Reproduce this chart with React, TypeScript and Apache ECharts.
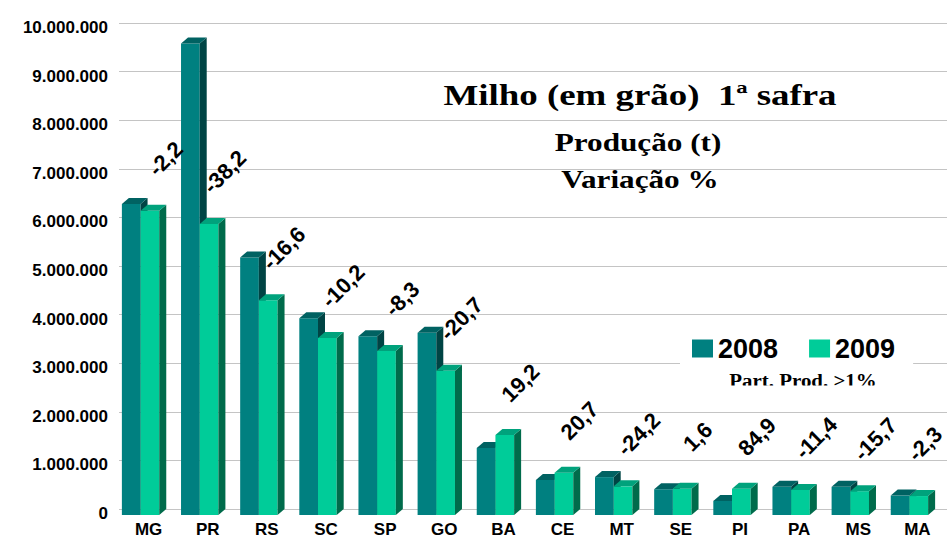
import React, { useEffect, useRef } from "react";
import * as echarts from "echarts";

const categories = ["MG", "PR", "RS", "SC", "SP", "GO", "BA", "CE", "MT", "SE", "PI", "PA", "MS", "MA"];
const prod2008 = [6400000, 9700000, 5300000, 4050000, 3680000, 3750000, 1380000, 720000, 780000, 530000, 290000, 580000, 580000, 400000];
const prod2009 = [6260000, 5990000, 4420000, 3640000, 3375000, 2970000, 1645000, 870000, 590000, 540000, 540000, 515000, 490000, 390000];
const variation = [-2.2, -38.2, -16.6, -10.2, -8.3, -20.7, 19.2, 20.7, -24.2, 1.6, 84.9, -11.4, -15.7, -2.3];
const yTicks = { min: 0, max: 10000000, interval: 1000000 };

const titleLines = ["Milho (em grão)  1ª safra", "Produção (t)", "Variação %"];
const note = "Part. Prod. >1%";

const colors2008 = { front: "#008080", side: "#004444", top: "#006262" };
const colors2009 = { front: "#00CC99", side: "#006B4B", top: "#00A27C" };

const fmtNum = (v: number) => String(v).replace(/\B(?=(\d{3})+(?!\d))/g, ".");
const fmtVar = (v: number) => v.toFixed(1).replace(".", ",");

function makeBarRender(s: number, c: { front: string; side: string; top: string }) {
  return (params: any, api: any) => {
    const idx = api.value(0);
    const val = api.value(1);
    const top = api.coord([idx, val]);
    const base = api.coord([idx, 0]);
    const band = api.size([1, 0])[0];
    const w = band * 0.316;
    const dx = 7;
    const dy = 6;
    const x0 = top[0] - 8 - w + s * w;
    const yT = top[1] + dy;
    const yB = base[1] + dy;
    return {
      type: "group",
      children: [
        { type: "rect", shape: { x: x0, y: yT, width: w, height: yB - yT }, style: { fill: c.front } },
        {
          type: "polygon",
          shape: { points: [[x0 + w, yT], [x0 + w + dx, yT - dy], [x0 + w + dx, yB - dy], [x0 + w, yB]] },
          style: { fill: c.side },
        },
        {
          type: "polygon",
          shape: { points: [[x0, yT], [x0 + dx, yT - dy], [x0 + w + dx, yT - dy], [x0 + w, yT]] },
          style: { fill: c.top },
        },
      ],
    };
  };
}

function labelRender(params: any, api: any) {
  const idx = api.value(0);
  const val = api.value(1);
  const v = api.value(2);
  const p = api.coord([idx, val]);
  const maxX = params.coordSys.x + params.coordSys.width - 22;
  return {
    type: "text",
    x: Math.min(p[0] + 17, maxX),
    y: p[1] - 46,
    rotation: Math.PI / 4,
    style: {
      text: fmtVar(v),
      fill: "#000",
      fontSize: 22,
      fontWeight: "bold",
      fontFamily: "Liberation Sans, Arial, sans-serif",
      align: "center",
      verticalAlign: "middle",
      textAlign: "center",
      textVerticalAlign: "middle",
    },
  };
}

export default function App() {
  const ref = useRef<HTMLDivElement>(null);
  useEffect(() => {
    if (!ref.current) return;
    const chart = echarts.init(ref.current, undefined, { renderer: "svg" });
    const serifBold = { fontFamily: "Liberation Serif, Times New Roman, serif", fontWeight: "bold", fill: "#000", align: "center", verticalAlign: "middle" };
    chart.setOption({
      animation: false,
      backgroundColor: "#fff",
      grid: { left: 119, right: 0, top: 23, bottom: 28, containLabel: false },
      xAxis: {
        type: "category",
        data: categories,
        axisLine: { show: false },
        axisTick: { show: false },
        axisLabel: { color: "#000", fontSize: 17, fontWeight: "bold", fontFamily: "Liberation Sans, Arial, sans-serif", margin: 12 },
      },
      yAxis: {
        type: "value",
        min: yTicks.min,
        max: yTicks.max,
        interval: yTicks.interval,
        axisLine: { show: false },
        axisTick: { show: false },
        splitLine: { lineStyle: { color: "#c4c4c4", width: 1 } },
        axisLabel: {
          color: "#000",
          fontSize: 17,
          fontWeight: "bold",
          fontFamily: "Liberation Sans, Arial, sans-serif",
          margin: 11,
          verticalAlign: "top",
          lineHeight: 9,
          formatter: (v: number) => fmtNum(v),
        },
      },
      legend: {
        data: [
          { name: "2008", icon: "rect" },
          { name: "2009", icon: "rect" },
        ],
        left: 680,
        top: 327,
        padding: [8, 18, 30, 12],
        backgroundColor: "#fff",
        itemWidth: 21,
        itemHeight: 18,
        itemGap: 31,
        textStyle: { color: "#000", fontSize: 27, fontWeight: "bold", fontFamily: "Liberation Sans, Arial, sans-serif" },
      },
      graphic: [
        { type: "text", x: 640, y: 95, scaleX: 1.23, z: 100, style: { ...serifBold, text: titleLines[0], fontSize: 30 } },
        { type: "text", x: 638, y: 142, scaleX: 1.2, z: 100, style: { ...serifBold, text: titleLines[1], fontSize: 26 } },
        { type: "text", x: 640, y: 179, scaleX: 1.2, z: 100, style: { ...serifBold, text: titleLines[2], fontSize: 26 } },
        { type: "text", x: 803, y: 380, scaleX: 1.1, z: 100, style: { ...serifBold, text: note, fontSize: 19 } },
        { type: "rect", z: 101, shape: { x: 700, y: 385.5, width: 200, height: 7 }, style: { fill: "#fff" } },
      ],
      series: [
        {
          name: "2008",
          type: "custom",
          renderItem: makeBarRender(0, colors2008),
          data: prod2008.map((v, i) => [i, v]),
          encode: { x: 0, y: 1 },
          itemStyle: { color: colors2008.front },
        },
        {
          name: "2009",
          type: "custom",
          renderItem: makeBarRender(1, colors2009),
          data: prod2009.map((v, i) => [i, v]),
          encode: { x: 0, y: 1 },
          itemStyle: { color: colors2009.front },
        },
        {
          name: "Variação",
          type: "custom",
          renderItem: labelRender,
          data: prod2009.map((v, i) => [i, v, variation[i]]),
          encode: { x: 0, y: 1 },
          z: 5,
        },
      ],
    });
    return () => chart.dispose();
  }, []);
  return <div ref={ref} style={{ position: "fixed", left: 0, top: 0, width: 947, height: 538 }} />;
}
